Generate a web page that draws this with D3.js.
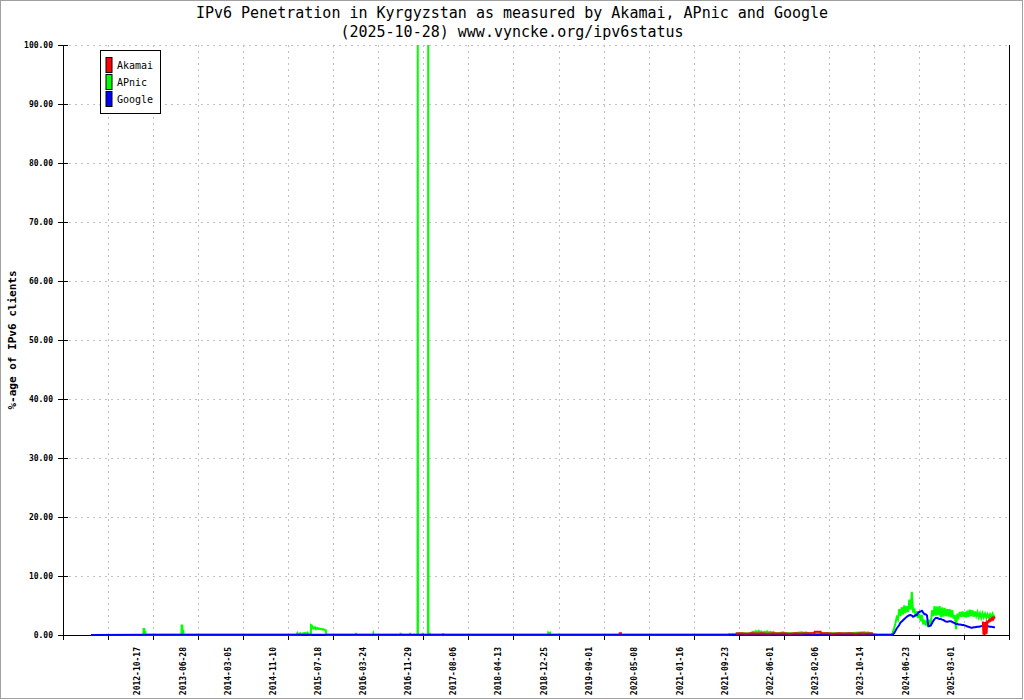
<!DOCTYPE html>
<html><head><meta charset="utf-8">
<script src="https://cdn.jsdelivr.net/npm/d3@7"></script>
<style>body{margin:0;background:#fff}svg{display:block}text{font-family:"DejaVu Sans Mono",monospace}</style>
</head><body><svg id="c" width="1024" height="700"></svg>
<script>
// ---------- data ----------
const titleLines = ["IPv6 Penetration in Kyrgyzstan as measured by Akamai, APnic and Google", "(2025-10-28) www.vyncke.org/ipv6status"];
const yTitle = "%-age of IPv6 clients";
const seriesNames = ["Akamai", "APnic", "Google"];
const yTicks = [0,10,20,30,40,50,60,70,80,90,100];
const xTickLabels = ["2012-10-17","2013-06-28","2014-03-05","2014-11-10","2015-07-18","2016-03-24","2016-11-29","2017-08-06","2018-04-13","2018-12-25","2019-09-01","2020-05-08","2021-01-16","2021-09-23","2022-06-01","2023-02-06","2023-10-14","2024-06-23","2025-03-01"];
const xDomain = ["2011-09-02", "2026-01-14"];

const akamaiEarly = [["2020-02-10",0.3],["2020-02-28",0.3]];
const akamaiMid = [["2021-11-21",0.25],["2021-12-15",0.3],["2022-01-15",0.22],["2022-02-15",0.3],["2022-03-15",0.25],["2022-04-15",0.3],["2022-05-15",0.22],["2022-06-15",0.3],["2022-07-15",0.25],["2022-08-15",0.3],["2022-09-15",0.22],["2022-10-15",0.3],["2022-11-15",0.25],["2022-12-15",0.3],["2023-01-15",0.28],["2023-01-30",0.3],["2023-02-01",0.55],["2023-03-06",0.55],["2023-03-08",0.3],["2023-04-15",0.3],["2023-05-15",0.22],["2023-06-15",0.3],["2023-07-15",0.25],["2023-08-15",0.3],["2023-09-15",0.22],["2023-10-15",0.3],["2023-11-15",0.25],["2023-12-21",0.3]];
const akamaiRecent = [["2025-08-22",2.3],["2025-08-25",0.1],["2025-08-28",2.2],["2025-08-31",0.0],["2025-09-03",2.2],["2025-09-06",0.1],["2025-09-09",2.3],["2025-09-12",0.2],["2025-09-15",2.2],["2025-09-18",2.1],["2025-09-22",2.4],["2025-09-26",2.3],["2025-09-30",2.6],["2025-10-04",2.45],["2025-10-08",2.8],["2025-10-12",2.6],["2025-10-16",2.9],["2025-10-20",2.7],["2025-10-24",2.95],["2025-10-28",2.8]];

const apnicOld = [["2012-02-04",0.02],
["2012-11-21",0.03],["2012-11-22",1.0],["2012-11-26",1.0],["2012-11-27",0.55],["2012-12-02",0.55],["2012-12-03",0.03],
["2013-06-20",0.03],["2013-06-21",1.6],["2013-06-25",1.6],["2013-06-26",0.7],["2013-06-30",0.7],["2013-07-01",0.03],
["2015-03-20",0.03],["2015-03-25",0.3],["2015-03-28",0.03],["2015-04-10",0.3],["2015-04-14",0.03],["2015-04-25",0.25],["2015-05-05",0.35],["2015-05-12",0.15],["2015-05-20",0.4],["2015-05-27",0.1],["2015-06-08",0.1],["2015-06-09",1.7],["2015-06-14",1.6],["2015-06-16",1.2],["2015-06-20",1.3],["2015-06-25",1.1],["2015-07-01",1.3],["2015-07-06",1.0],["2015-07-12",1.2],["2015-07-18",1.0],["2015-07-24",1.1],["2015-07-30",1.0],["2015-08-05",1.05],["2015-08-11",0.9],["2015-08-18",1.0],["2015-08-24",0.8],["2015-08-30",0.8],["2015-09-02",0.03],
["2016-02-11",0.03],["2016-02-13",0.35],["2016-02-15",0.03],
["2016-05-18",0.03],["2016-05-20",0.25],["2016-05-22",0.03],
["2016-10-16",0.03],["2016-10-18",0.35],["2016-10-20",0.03],
["2016-12-07",0.03],["2016-12-09",0.35],["2016-12-11",0.03],
["2017-01-20",0.03],["2017-01-21",100],["2017-01-22",0.03],
["2017-02-16",0.03],["2017-02-18",0.35],["2017-02-20",0.03],
["2017-03-19",0.03],["2017-03-20",100],["2017-03-21",0.03],
["2017-03-27",0.03],["2017-03-29",0.35],["2017-03-31",0.03],
["2017-06-09",0.03],["2017-06-11",0.3],["2017-06-13",0.03],
["2019-01-13",0.03],["2019-01-15",0.4],["2019-01-20",0.2],["2019-01-25",0.35],["2019-01-27",0.03],
["2021-10-10",0.03],["2021-10-15",0.2],["2021-10-25",0.1],["2021-11-05",0.2],["2021-11-15",0.15],
["2021-11-25",0.3],["2021-12-10",0.25],["2021-12-25",0.3],["2022-01-10",0.3],["2022-01-25",0.25],["2022-02-10",0.3],
["2022-02-25",0.55],["2022-03-05",0.35],["2022-03-12",0.65],["2022-03-20",0.4],["2022-03-28",0.7],["2022-04-05",0.45],["2022-04-12",0.6],["2022-04-20",0.35],["2022-04-28",0.55],["2022-05-06",0.4],["2022-05-14",0.6],["2022-05-22",0.3],["2022-05-30",0.55],["2022-06-08",0.35],["2022-06-16",0.5],["2022-06-26",0.3],
["2022-07-15",0.3],["2022-08-10",0.45],["2022-08-20",0.3],["2022-09-15",0.3],["2022-10-10",0.3],["2022-11-22",0.45],["2022-12-05",0.3],["2022-12-15",0.45],["2022-12-25",0.3],
["2023-02-01",0.3],["2023-04-01",0.3],["2023-06-01",0.3],["2023-08-01",0.3],["2023-11-07",0.45],["2023-11-15",0.3],["2023-11-24",0.45],["2023-12-15",0.2],["2024-01-15",0.05]];

const googleOld = [["2012-02-04",0.02],["2013-01-01",0.03],["2014-01-01",0.03],["2015-01-01",0.04],["2016-01-01",0.04],["2017-01-01",0.05],["2018-01-01",0.05],["2019-01-01",0.05],["2020-01-01",0.05],["2021-01-01",0.05],["2022-01-01",0.05],["2023-01-01",0.05],["2024-01-01",0.05]];

const recentWeeks = ["2024-04-03","2024-04-10","2024-04-17","2024-04-24","2024-05-01","2024-05-08","2024-05-15","2024-05-22","2024-05-29","2024-06-05","2024-06-12","2024-06-19","2024-06-26","2024-07-03","2024-07-10","2024-07-17","2024-07-24","2024-07-31","2024-08-07","2024-08-14","2024-08-21","2024-08-28","2024-09-04","2024-09-11","2024-09-18","2024-09-25","2024-10-02","2024-10-09","2024-10-16","2024-10-23","2024-10-30","2024-11-06","2024-11-13","2024-11-20","2024-11-27","2024-12-04","2024-12-11","2024-12-18","2024-12-25","2025-01-01","2025-01-08","2025-01-15","2025-01-22","2025-01-29","2025-02-05","2025-02-12","2025-02-19","2025-02-26","2025-03-05","2025-03-12","2025-03-19","2025-03-26","2025-04-02","2025-04-09","2025-04-16","2025-04-23","2025-04-30","2025-05-07","2025-05-14","2025-05-21","2025-05-28","2025-06-04","2025-06-11","2025-06-18","2025-06-25","2025-07-02","2025-07-09","2025-07-16","2025-07-23","2025-07-30","2025-08-06","2025-08-13","2025-08-20","2025-08-27","2025-09-03","2025-09-10","2025-09-17","2025-09-24","2025-10-01","2025-10-08","2025-10-15","2025-10-22","2025-10-28"];
const apnicRecent = [0.05,0.5,1.2,2.0,3.0,2.6,4.4,3.2,4.7,3.5,5.0,3.7,4.9,3.9,6.0,4.3,7.3,3.8,4.5,3.1,4.0,2.9,3.6,2.3,3.4,1.8,2.6,1.6,2.4,1.3,2.6,1.8,4.2,3.2,4.9,3.3,4.8,3.4,4.9,3.0,4.7,3.1,4.6,3.2,4.4,3.1,4.4,3.0,4.2,2.8,3.4,1.0,3.6,3.0,3.9,3.1,4.0,3.1,3.9,3.0,4.1,3.1,4.3,3.2,4.2,3.1,4.0,3.2,3.9,3.0,3.7,2.9,3.7,3.0,3.6,2.9,3.5,2.9,3.5,3.0,3.6,3.1,3.3];
const googleRecent = [0.05,0.1,0.3,0.7,1.1,1.4,1.7,2.1,2.3,2.5,2.7,2.9,3.1,3.25,3.35,3.4,3.3,3.1,3.2,3.4,3.4,3.8,3.9,4.0,4.1,3.8,3.5,3.5,3.3,1.6,1.5,1.6,2.0,2.4,2.7,2.9,2.9,2.8,2.7,2.7,2.6,2.55,2.4,2.3,2.25,2.3,2.35,2.35,2.2,2.1,2.0,1.85,1.85,1.8,1.8,1.75,1.7,1.7,1.6,1.55,1.45,1.4,1.3,1.25,1.25,1.3,1.3,1.35,1.4,1.4,1.45,1.5,1.55,1.6,1.6,1.55,1.5,1.45,1.4,1.4,1.35,1.3,1.3];

// ---------- styles ----------
const colors = {Akamai:"#ff0000", APnic:"#00ff00", Google:"#0000ff"};
const gridColor = "#c0c0c0";

(function () {
const parse = d3.utcParse("%Y-%m-%d");
const toPts = arr => arr.map(([d,v]) => ({date: parse(d), value: v}));
const gap = [{date:null, value:null}];
const akamai = [...toPts(akamaiEarly), ...gap, ...toPts(akamaiMid), ...gap, ...toPts(akamaiRecent)];
const apnic = [...toPts(apnicOld), ...recentWeeks.map((d,i)=>({date:parse(d), value:apnicRecent[i]}))];
const google = [...toPts(googleOld), ...recentWeeks.map((d,i)=>({date:parse(d), value:googleRecent[i]}))];

const svg = d3.select("#c");
const pL = 63, pR = 1009, pT = 45, pB = 635;
const x = d3.scaleUtc().domain(xDomain.map(parse)).range([pL, pR]);
const y = d3.scaleLinear().domain([0, 100]).range([pB, pT]);

svg.append("rect").attr("x",0.5).attr("y",0.5).attr("width",1022).attr("height",698).attr("fill","#fff").attr("stroke","#a0a0a0");

titleLines.forEach((t,i) => svg.append("text").attr("x",512).attr("y",18+i*19).attr("text-anchor","middle").attr("font-size",15).attr("fill","#000").text(t));

const crisp = v => Math.round(v) + 0.5;
const [d0, d1] = x.domain();
const gridDates = d3.range(22).map(k => new Date(+d0 + k*(d1-d0)/21));
svg.append("g").selectAll("line").data(yTicks.filter(v=>v>0)).join("line")
  .attr("x1", pL).attr("x2", pR).attr("y1", d=>crisp(y(d))).attr("y2", d=>crisp(y(d)))
  .attr("stroke", gridColor).attr("stroke-dasharray","2,4");
svg.append("g").selectAll("line").data(gridDates.slice(1,21)).join("line")
  .attr("x1", d=>crisp(x(d))).attr("x2", d=>crisp(x(d))).attr("y1", pT).attr("y2", pB)
  .attr("stroke", gridColor).attr("stroke-dasharray","2,4");

const ax = svg.append("g").attr("stroke","#000").attr("stroke-width",1);
ax.append("line").attr("x1",pL+0.5).attr("x2",pL+0.5).attr("y1",pT).attr("y2",pB+5);
ax.append("line").attr("x1",pR+0.5).attr("x2",pR+0.5).attr("y1",pT).attr("y2",pB+5);
ax.append("line").attr("x1",pL).attr("x2",pR+1).attr("y1",pB+0.5).attr("y2",pB+0.5);
ax.selectAll(".yt").data(yTicks).join("line").attr("class","yt")
  .attr("x1",pL-5).attr("x2",pL+5).attr("y1",d=>crisp(y(d))).attr("y2",d=>crisp(y(d)));
ax.selectAll(".xt").data(gridDates.slice(1)).join("line").attr("class","xt")
  .attr("x1",d=>crisp(x(d))).attr("x2",d=>crisp(x(d))).attr("y1",pB).attr("y2",pB+5);

svg.append("g").selectAll("text").data(yTicks).join("text")
  .attr("x", pL-10).attr("y", d=>y(d)+0.5).attr("dy","0.35em").attr("text-anchor","end")
  .attr("font-size",8).attr("font-weight","bold").text(d3.format(".2f"));

svg.append("g").selectAll("text").data(xTickLabels).join("text")
  .attr("transform", d=>`translate(${x(parse(d))},647) rotate(-90)`)
  .attr("dy","0.35em").attr("text-anchor","end").attr("font-size",8).attr("font-weight","bold").text(d=>d);

svg.append("text").attr("transform","translate(16,340) rotate(-90)").attr("text-anchor","middle")
  .attr("font-size",11).attr("font-weight","bold").text(yTitle);

svg.append("clipPath").attr("id","clip").append("rect").attr("x",pL+1).attr("y",pT).attr("width",pR-pL-1).attr("height",pB-pT+3);
const line = d3.line().defined(d=>d.date!==null && d.value!==null).x(d=>x(d.date)).y(d=>y(d.value));
const sg = svg.append("g").attr("clip-path","url(#clip)");
[["APnic",apnic],["Google",google],["Akamai",akamai]].forEach(([n,data]) => {
  sg.append("path").datum(data).attr("d", line).attr("fill","none").attr("stroke",colors[n]).attr("stroke-width",2);
});

const lg = svg.append("g");
lg.append("rect").attr("x",100.5).attr("y",50.5).attr("width",60).attr("height",63).attr("fill","#fff").attr("stroke","#000");
seriesNames.forEach((n,i) => {
  lg.append("rect").attr("x",106).attr("y",57.5+i*17).attr("width",6).attr("height",15).attr("fill",colors[n]).attr("stroke","#000");
  lg.append("text").attr("x",117).attr("y",69+i*17).attr("font-size",10).text(n);
});
})();
</script></body></html>
